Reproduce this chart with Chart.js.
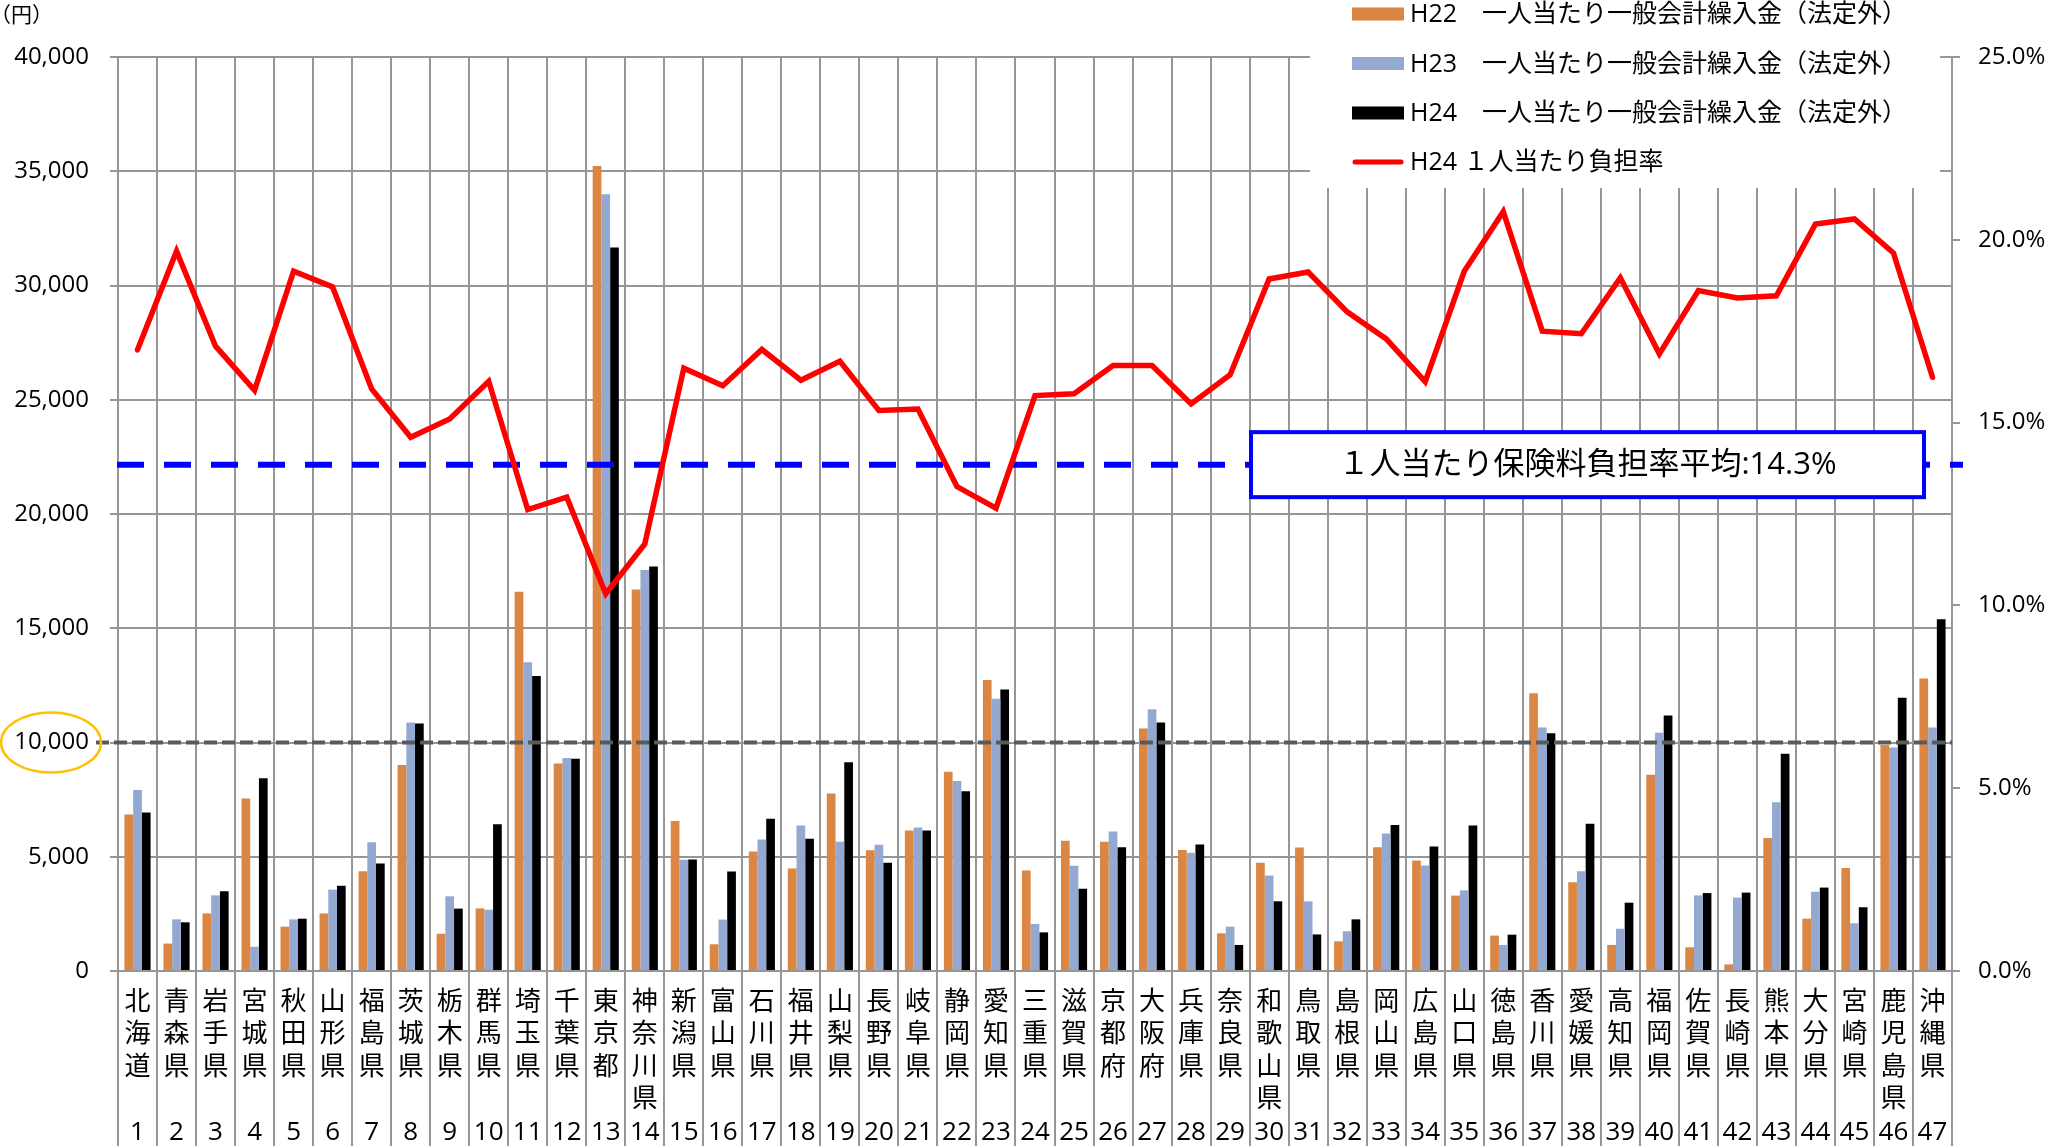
<!DOCTYPE html>
<html>
<head>
<meta charset="utf-8">
<script src="https://cdn.jsdelivr.net/npm/chart.js@4/dist/chart.umd.min.js"></script>
<style>
html,body{margin:0;padding:0;background:#ffffff;overflow:hidden}
#wrap{width:2049px;height:1146px;position:relative}
</style>
</head>
<body>
<div id="wrap"><canvas id="c" width="2049" height="1146"></canvas></div>
<script>
// ---------- data ----------
const prefectures = ['北海道','青森県','岩手県','宮城県','秋田県','山形県','福島県','茨城県','栃木県','群馬県',
  '埼玉県','千葉県','東京都','神奈川県','新潟県','富山県','石川県','福井県','山梨県','長野県',
  '岐阜県','静岡県','愛知県','三重県','滋賀県','京都府','大阪府','兵庫県','奈良県','和歌山県',
  '鳥取県','島根県','岡山県','広島県','山口県','徳島県','香川県','愛媛県','高知県','福岡県',
  '佐賀県','長崎県','熊本県','大分県','宮崎県','鹿児島県','沖縄県'];
const prefNumbers = ['1','2','3','4','5','6','7','8','9','10','11','12','13','14','15','16','17','18','19','20',
  '21','22','23','24','25','26','27','28','29','30','31','32','33','34','35','36','37','38','39','40',
  '41','42','43','44','45','46','47'];

const h22 = [6850,1200,2520,7550,1940,2520,4360,9020,1630,2740,16600,9080,35230,16700,6560,
  1170,5230,4490,7770,5280,6150,8720,12740,4400,5700,5660,10610,5290,1650,4740,
  5400,1300,5420,4840,3300,1550,12150,3880,1140,8590,1040,290,5820,2290,4510,9890,12800];
const h23 = [7920,2260,3310,1060,2260,3560,5640,10880,3270,2680,13510,9320,33990,17550,4870,
  2250,5750,6370,5660,5530,6280,8310,11910,2060,4610,6110,11450,5180,1940,4180,
  3050,1740,6020,4620,3530,1140,10660,4360,1850,10430,3310,3210,7380,3470,2090,9780,10660];
const h24 = [6940,2130,3490,8440,2290,3730,4700,10830,2730,6420,12910,9290,31660,17700,4880,
  4350,6660,5790,9140,4740,6150,7870,12320,1690,3600,5420,10880,5540,1140,3050,
  1600,2260,6390,5450,6370,1590,10400,6440,2990,11180,3410,3430,9510,3650,2790,11960,15390];
const rateH24 = [16.99,19.69,17.09,15.88,19.14,18.71,15.92,14.60,15.10,16.13,12.62,12.96,10.32,11.68,16.49,
  16.01,17.00,16.16,16.68,15.33,15.37,13.25,12.66,15.74,15.79,16.56,16.56,15.51,16.31,18.93,
  19.12,18.03,17.29,16.12,19.14,20.77,17.50,17.43,18.96,16.88,18.61,18.41,18.47,20.43,20.57,19.64,16.24];

const seriesLabels = ['H22　一人当たり一般会計繰入金（法定外）','H23　一人当たり一般会計繰入金（法定外）',
  'H24　一人当たり一般会計繰入金（法定外）','H24 １人当たり負担率'];
const yenMax = 40000, yenStep = 5000;
const rateMax = 25, rateStep = 5;
const refLineYen = 10000;          // grey dashed reference line
const avgLineRate = 13.85;         // blue dashed average line (as drawn)
const avgLabel = '１人当たり保険料負担率平均:14.3%';
const unitLabel = '（円）';

// ---------- style ----------
const GRID = '#969696';
const FONT = '"Open Sans","Noto Sans CJK JP",sans-serif';
const COLORS = ['#DB8642','#93A9D1','#000000','#FF0000'];

const xLabels = prefectures.map((p, i) => {
  const chars = Array.from(p);
  while (chars.length < 4) chars.push('');
  chars.push(prefNumbers[i]);
  return chars;
});

function alignPx(p, w){ return Math.round(p - w/2) + w/2; }

const decor = {
  id: 'decor',
  beforeDatasetsDraw(chart) {
    const {ctx, chartArea: ca} = chart;
    const x = chart.scales.x;
    const step = x.getPixelForValue(1) - x.getPixelForValue(0);
    ctx.save();
    // category separators continued through the label area
    ctx.strokeStyle = GRID; ctx.lineWidth = 2;
    for (let i = 0; i <= prefectures.length; i++) {
      const px = alignPx(x.getPixelForValue(i) - step/2, 2);
      ctx.beginPath(); ctx.moveTo(px, ca.bottom); ctx.lineTo(px, chart.height); ctx.stroke();
    }
    // legend (white box over the grid)
    ctx.fillStyle = '#ffffff';
    ctx.fillRect(1310, 0, 630, 188);
    const rows = [14, 63.5, 113, 162];
    chart.data.datasets.forEach((ds, i) => {
      const cy = rows[i];
      if (ds.type === 'line') {
        ctx.strokeStyle = ds.borderColor; ctx.lineWidth = 5; ctx.lineCap = 'round';
        ctx.beginPath(); ctx.moveTo(1355, cy); ctx.lineTo(1401, cy); ctx.stroke();
      } else {
        ctx.fillStyle = ds.backgroundColor;
        ctx.fillRect(1352, cy - 6.5, 52, 13);
      }
      ctx.fillStyle = '#000'; ctx.font = '25px ' + FONT; ctx.textBaseline = 'middle'; ctx.textAlign = 'left';
      ctx.fillText(ds.label, 1410, cy + 1);
    });
    ctx.restore();
  },
  beforeDatasetDraw(chart, args) {
    if (chart.data.datasets[args.index].type !== 'line') return;
    const {ctx, chartArea: ca} = chart;
    const y = chart.scales.y, y1 = chart.scales.y1;
    ctx.save();
    // grey dashed reference at 10,000
    const gy = y.getPixelForValue(refLineYen);
    ctx.strokeStyle = '#5a5a5a'; ctx.lineWidth = 4; ctx.setLineDash([13, 5]); ctx.lineCap = 'butt';
    ctx.beginPath(); ctx.moveTo(96, gy); ctx.lineTo(ca.right, gy); ctx.stroke();
    // blue dashed average line
    const by = y1.getPixelForValue(avgLineRate);
    ctx.strokeStyle = '#0000FF'; ctx.lineWidth = 6; ctx.setLineDash([27, 20]);
    ctx.beginPath(); ctx.moveTo(ca.left - 1, by); ctx.lineTo(ca.right + 11, by); ctx.stroke();
    ctx.restore();
  },
  afterDatasetsDraw(chart) {
    const {ctx} = chart;
    const y1 = chart.scales.y1;
    const cy = y1.getPixelForValue(avgLineRate);
    ctx.save();
    const bx0 = 1251, bx1 = 1924, h = 65;
    ctx.fillStyle = '#ffffff';
    ctx.fillRect(bx0, cy - h/2, bx1 - bx0, h);
    ctx.strokeStyle = '#0000FF'; ctx.lineWidth = 4; ctx.lineJoin = 'miter';
    ctx.strokeRect(bx0, cy - h/2, bx1 - bx0, h);
    ctx.fillStyle = '#000'; ctx.font = '31px ' + FONT; ctx.textAlign = 'center'; ctx.textBaseline = 'middle';
    ctx.fillText(avgLabel, (bx0 + bx1)/2, cy + 1);
    ctx.restore();
  },
  afterDraw(chart) {
    const {ctx} = chart;
    const y = chart.scales.y;
    ctx.save();
    // highlight ellipse around the 10,000 tick label
    ctx.strokeStyle = '#FFC000'; ctx.lineWidth = 2.5;
    ctx.beginPath(); ctx.ellipse(51, y.getPixelForValue(refLineYen), 50, 30, 0, 0, Math.PI*2); ctx.stroke();
    // unit label
    ctx.fillStyle = '#000'; ctx.font = '21px "Noto Sans CJK JP",sans-serif'; ctx.textAlign = 'left'; ctx.textBaseline = 'middle';
    ctx.fillText(unitLabel, -10, 14);
    ctx.restore();
  }
};

const barCommon = {yAxisID: 'y', order: 1, categoryPercentage: 0.67, barPercentage: 1.0, borderWidth: 0};

new Chart(document.getElementById('c'), {
  type: 'bar',
  data: {
    labels: xLabels,
    datasets: [
      Object.assign({label: seriesLabels[0], data: h22, backgroundColor: COLORS[0]}, barCommon),
      Object.assign({label: seriesLabels[1], data: h23, backgroundColor: COLORS[1]}, barCommon),
      Object.assign({label: seriesLabels[2], data: h24, backgroundColor: COLORS[2]}, barCommon),
      {type: 'line', label: seriesLabels[3], data: rateH24, yAxisID: 'y1', order: 0,
       borderColor: COLORS[3], backgroundColor: COLORS[3], borderWidth: 5.5, pointRadius: 0,
       tension: 0, borderJoinStyle: 'miter', borderCapStyle: 'round', fill: false}
    ]
  },
  options: {
    responsive: false, animation: false, devicePixelRatio: 1,
    layout: {padding: {top: 57, left: 0, right: 0, bottom: 0}},
    plugins: {legend: {display: false}, tooltip: {enabled: false}},
    scales: {
      x: {
        offset: true,
        grid: {color: GRID, lineWidth: 2, drawTicks: false, offset: true},
        border: {color: GRID, width: 2},
        ticks: {color: '#000', padding: 15, maxRotation: 0, minRotation: 0, autoSkip: false,
                font: {family: FONT, size: 26, lineHeight: '32.5px'}},
        afterFit(s) { s.height = 175; }
      },
      y: {
        position: 'left', min: 0, max: yenMax,
        grid: {color: GRID, lineWidth: 2, tickLength: 8},
        border: {color: GRID, width: 2},
        ticks: {stepSize: yenStep, padding: 21, color: '#000', font: {family: FONT, size: 24},
                callback: v => v.toLocaleString('en-US')},
        afterFit(s) { s.width = 118; }
      },
      y1: {
        position: 'right', min: 0, max: rateMax,
        grid: {drawOnChartArea: false, color: GRID, lineWidth: 2, tickLength: 8},
        border: {color: GRID, width: 2},
        ticks: {stepSize: rateStep, padding: 18, color: '#000', font: {family: FONT, size: 24},
                callback: v => v.toFixed(1) + '%'},
        afterFit(s) { s.width = 97; }
      }
    }
  },
  plugins: [decor]
});
</script>
</body>
</html>
